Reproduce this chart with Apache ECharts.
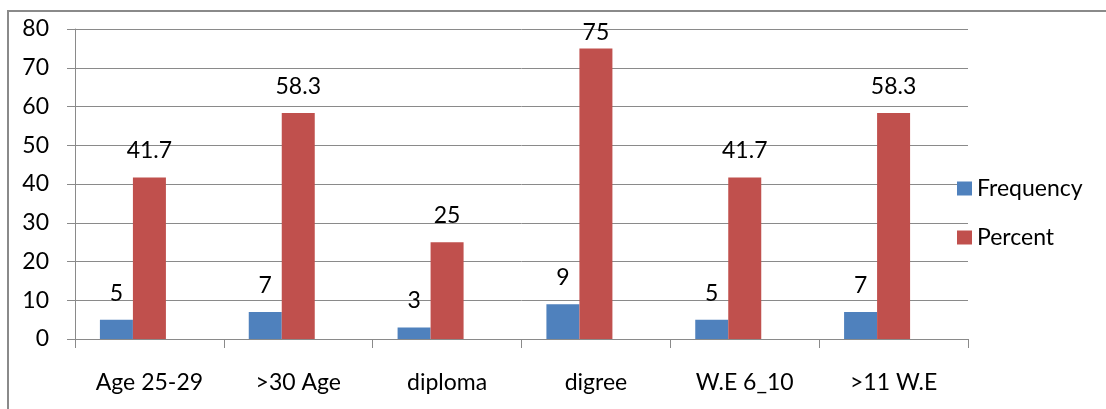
<!DOCTYPE html>
<html>
<head>
<meta charset="utf-8">
<script src="https://cdn.jsdelivr.net/npm/echarts@6/dist/echarts.min.js"></script>
<style>
  html, body { margin: 0; padding: 0; background: #ffffff; }
  #chart { width: 1106px; height: 409px; }
</style>
</head>
<body>
<div id="chart"></div>
<script>
// Respondent profile: counts and percentages per group
const categories = ['Age 25-29', '>30 Age', 'diploma', 'digree', 'W.E 6_10', '>11 W.E'];
const frequency = [5, 7, 3, 9, 5, 7];
const percent = [41.7, 58.3, 25, 75, 41.7, 58.3];
// third (empty) slot in each group, kept so the pair sits left of the category centre
const reserved = [null, null, null, null, null, null];
const yTicks = { min: 0, max: 80, step: 10 };

const FONT = 'Lato';
const FONT_SIZE = 23;
const GREY = '#8a8a8a';

// labels near the top edge are pulled closer to their bar
function withLabels(values) {
  return values.map(v => (v > 70 ? { value: v, label: { distance: 4 } } : v));
}

const chart = echarts.init(document.getElementById('chart'));
chart.setOption({
  animation: false,
  textStyle: { fontFamily: FONT, color: '#000' },
  graphic: [{
    type: 'rect',
    shape: { x: 8, y: 11, width: 1120, height: 420 },
    style: { fill: 'none', stroke: GREY, lineWidth: 2 },
    silent: true
  }],
  grid: { left: 75, right: 138, top: 29, bottom: 70 },
  legend: {
    orient: 'vertical',
    left: 952,
    top: 172,
    itemWidth: 15,
    itemHeight: 14,
    itemGap: 26,
    data: ['Frequency', 'Percent'],
    icon: 'rect',
    textStyle: { fontFamily: FONT, fontSize: FONT_SIZE, color: '#000', lineHeight: 22 }
  },
  xAxis: {
    type: 'category',
    data: categories,
    axisLine: { lineStyle: { color: GREY, width: 1 } },
    axisTick: { show: true, length: 9, lineStyle: { color: GREY } },
    axisLabel: { fontFamily: FONT, fontSize: FONT_SIZE, color: '#000', margin: 32, interval: 0 },
    splitLine: { show: false }
  },
  yAxis: {
    type: 'value',
    min: yTicks.min,
    max: yTicks.max,
    interval: yTicks.step,
    axisLine: { show: true, lineStyle: { color: GREY, width: 1 } },
    axisTick: { show: true, length: 8, lineStyle: { color: GREY } },
    axisLabel: { fontFamily: FONT, fontSize: FONT_SIZE, color: '#000', margin: 26 },
    splitLine: { lineStyle: { color: GREY, width: 1 } }
  },
  series: [
    {
      name: 'Frequency',
      type: 'bar',
      data: withLabels(frequency),
      barWidth: 33,
      barGap: '0%',
      itemStyle: { color: '#4F81BD' },
      label: { show: true, position: 'top', distance: 15, fontFamily: FONT, fontSize: FONT_SIZE, color: '#000' }
    },
    {
      name: 'Percent',
      type: 'bar',
      data: withLabels(percent),
      barWidth: 33,
      barGap: '0%',
      itemStyle: { color: '#C0504D' },
      label: { show: true, position: 'top', distance: 15, fontFamily: FONT, fontSize: FONT_SIZE, color: '#000' }
    },
    {
      name: 'reserved',
      type: 'bar',
      data: reserved,
      barWidth: 33,
      barGap: '0%',
      silent: true
    }
  ]
});
</script>
</body>
</html>
